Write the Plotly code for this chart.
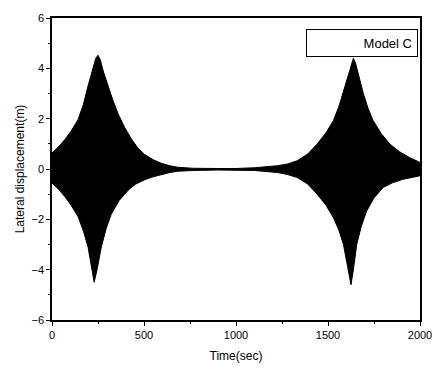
import plotly.graph_objects as go

# Envelope of the oscillation
upper_t = [0, 35, 70, 105, 142, 170, 196, 220, 238, 250, 262, 280, 304, 330, 359, 395, 431, 465, 503, 550, 593, 640, 683, 764,
           900, 1000, 1100, 1226, 1280, 1333, 1390, 1441, 1490, 1530, 1560, 1584, 1610, 1628, 1638, 1650, 1670, 1692, 1718,
           1745, 1790, 1835, 1890, 1942, 2000]
upper_y = [0.64, 0.88, 1.17, 1.52, 1.97, 2.55, 3.3, 3.95, 4.4, 4.52, 4.35, 3.85, 3.3, 2.75, 2.2, 1.65, 1.2, 0.85, 0.58, 0.37, 0.23, 0.13, 0.07, 0.03,
           0.02, 0.02, 0.05, 0.13, 0.2, 0.33, 0.6, 0.99, 1.45, 1.93, 2.5, 3.1, 3.8, 4.25, 4.4, 4.2, 3.6, 3.0, 2.4,
           1.93, 1.4, 1.0, 0.68, 0.46, 0.26]
lower_t = [0, 35, 70, 105, 142, 170, 196, 215, 229, 245, 268, 295, 322, 365, 413, 455, 503, 550, 593, 640, 683, 764,
           900, 1000, 1100, 1226, 1280, 1333, 1390, 1441, 1490, 1530, 1560, 1584, 1605, 1625, 1640, 1656, 1680, 1710,
           1750, 1799, 1850, 1907, 2000]
lower_y = [-0.56, -0.8, -1.1, -1.45, -1.9, -2.45, -3.1, -3.85, -4.5, -4.0, -3.1, -2.35, -1.8, -1.25, -0.85, -0.6, -0.43, -0.31, -0.22, -0.14, -0.09, -0.06,
           -0.04, -0.04, -0.06, -0.14, -0.22, -0.34, -0.6, -1.0, -1.45, -1.94, -2.45, -3.0, -3.8, -4.6, -3.9, -3.0, -2.3, -1.67,
           -1.15, -0.74, -0.55, -0.41, -0.27]

x_ticks = [0, 500, 1000, 1500, 2000]
y_ticks = [-6, -4, -2, 0, 2, 4, 6]

FONT = "Arial, Liberation Sans, sans-serif"

fig = go.Figure()
fig.add_trace(go.Scatter(x=lower_t, y=lower_y, mode="lines", line=dict(color="black", width=1),
                         showlegend=False, hoverinfo="skip"))
fig.add_trace(go.Scatter(x=upper_t, y=upper_y, mode="lines", line=dict(color="black", width=1),
                         fill="tonexty", fillcolor="black", name="Model C", showlegend=False))

fig.add_annotation(xref="paper", yref="paper", x=0.995, y=0.965, xanchor="right", yanchor="top",
                   text="Model C", showarrow=False, align="right",
                   font=dict(family=FONT, size=13, color="black"),
                   bordercolor="black", borderwidth=1, borderpad=5, width=100, height=16, bgcolor="white")

axis_common = dict(showline=True, linecolor="black", linewidth=1.5, mirror=True, ticks="outside",
                   ticklen=4, tickwidth=1, tickcolor="black", showgrid=False, zeroline=False,
                   ticklabeloverflow="allow", automargin=False,
                   tickfont=dict(family=FONT, size=11, color="black"),
                   minor=dict(ticks="outside", ticklen=2, tickcolor="black"))

fig.update_layout(
    width=434, height=370,
    margin=dict(l=52, r=14, t=18, b=50),
    plot_bgcolor="white", paper_bgcolor="white",
    xaxis=dict(range=[0, 2000], tickvals=x_ticks, title=dict(text="Time(sec)", standoff=12,
               font=dict(family=FONT, size=12, color="black")), **axis_common),
    yaxis=dict(range=[-6, 6], tickvals=y_ticks, title=dict(text="Lateral displacement(m)", standoff=4,
               font=dict(family=FONT, size=12, color="black")), **axis_common),
)
fig.update_xaxes(minor=dict(dtick=250, tick0=0))
fig.update_yaxes(minor=dict(dtick=1, tick0=0))

fig.write_html("out.html")
